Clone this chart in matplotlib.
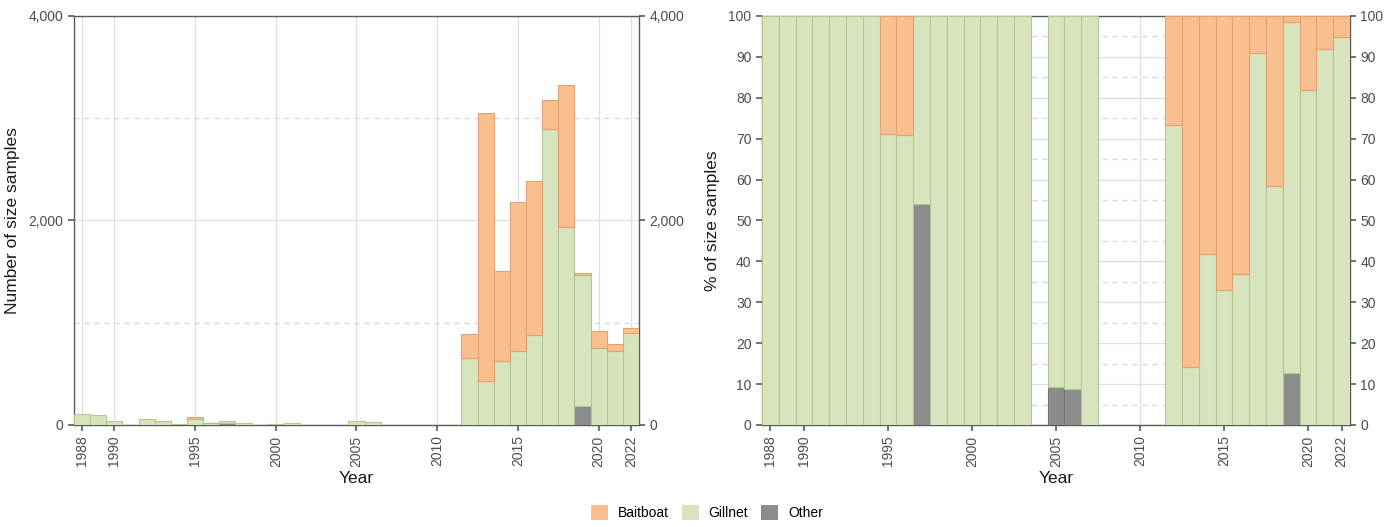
import numpy as np
import matplotlib
matplotlib.use("Agg")
import matplotlib.pyplot as plt
from matplotlib.patches import Patch
from matplotlib.ticker import FuncFormatter, MultipleLocator

plt.rcParams['font.family'] = ['Liberation Sans', 'DejaVu Sans']

# Size samples per gear and year
years = list(range(1988, 2023))
gillnet = [104, 94, 42, 2, 62, 36, 7, 57, 17, 17, 20, 3, 13, 20, 4, 2,
           0, 39, 31, 3, 0, 0, 0, 0,
           651, 430, 628, 720, 883, 2890, 1938, 1274, 749, 728, 896]
baitboat = [0, 0, 0, 0, 0, 0, 0, 23, 7, 0, 0, 0, 0, 0, 0, 0,
            0, 0, 0, 0, 0, 0, 0, 0,
            238, 2625, 874, 1462, 1508, 287, 1383, 22, 166, 64, 49]
other = [0, 0, 0, 0, 0, 0, 0, 0, 0, 20, 0, 0, 0, 0, 0, 0,
         0, 4, 3, 0, 0, 0, 0, 0,
         0, 0, 0, 0, 0, 0, 0, 189, 0, 0, 0]

gears = ['Baitboat', 'Gillnet', 'Other']
fills = {'Baitboat': '#f9bf8e', 'Gillnet': '#d7e4bd', 'Other': '#8c8c8c'}
edges = {'Baitboat': '#e3a273', 'Gillnet': '#b3c795', 'Other': '#767676'}

x_ticks = [1988, 1990, 1995, 2000, 2005, 2010, 2015, 2020, 2022]

yrs = np.array(years)
o = np.array(other, dtype=float)
g = np.array(gillnet, dtype=float)
b = np.array(baitboat, dtype=float)
total = o + g + b
has = total > 0
pct_o = np.where(has, o / np.where(has, total, 1) * 100, 0)
pct_g = np.where(has, g / np.where(has, total, 1) * 100, 0)
pct_b = np.where(has, b / np.where(has, total, 1) * 100, 0)

tick_col = '#4d4d4d'
spine_col = '#5a5a5a'

fig = plt.figure(figsize=(13.97, 5.27), dpi=100)
ax1 = fig.add_axes([74 / 1397, 102 / 527, 565 / 1397, 409 / 527])
ax2 = fig.add_axes([762 / 1397, 102 / 527, 588 / 1397, 409 / 527])


def stack(ax, lo, mid, hi):
    # Other at the bottom, then Gillnet, then Baitboat
    bottom = np.zeros(len(yrs))
    for name, vals in (('Other', lo), ('Gillnet', mid), ('Baitboat', hi)):
        m = vals > 0
        ax.bar(yrs[m], vals[m], width=1.0, bottom=bottom[m], color=fills[name],
               edgecolor=edges[name], linewidth=0.8, zorder=3)
        bottom = bottom + vals


def style(ax, ymax, major, minor):
    ax.set_xlim(1987.5, 2022.5)
    ax.set_ylim(0, ymax)
    ax.set_axisbelow(True)
    ax.set_xticks(x_ticks)
    ax.set_xticklabels([str(t) for t in x_ticks], rotation=90)
    ax.yaxis.set_major_locator(MultipleLocator(major))
    ax.yaxis.set_minor_locator(MultipleLocator(minor))
    for t in x_ticks:
        ax.axvline(t, color='#dedede', lw=0.9, zorder=0)
    for yv in np.arange(0, ymax + 1, major):
        ax.axhline(yv, color='#dedede', lw=0.9, zorder=0)
    for yv in np.arange(minor, ymax, major):
        ax.axhline(yv, color='#d6d6d6', lw=0.9, ls=(0, (4, 4)), zorder=0)
    ax.tick_params(axis='both', which='major', labelsize=10, colors=tick_col,
                   length=4, width=1.1, direction='out')
    ax.tick_params(axis='y', which='major', right=True, labelright=True)
    ax.tick_params(axis='y', which='minor', left=False, right=False)
    for s in ax.spines.values():
        s.set_color(spine_col)
        s.set_linewidth(1.0)
    ax.set_xlabel('Year', fontsize=12.5, color='#1a1a1a', labelpad=3)


stack(ax1, o, g, b)
style(ax1, 4000, 2000, 1000)
ax1.yaxis.set_major_formatter(FuncFormatter(lambda v, p: f'{v:,.0f}'))
ax1.set_ylabel('Number of size samples', fontsize=12.5, color='#1a1a1a', labelpad=6)

stack(ax2, pct_o, pct_g, pct_b)
style(ax2, 100, 10, 5)
ax2.set_ylabel('% of size samples', fontsize=12.5, color='#1a1a1a', labelpad=6)

handles = [Patch(facecolor=fills[n], edgecolor='none') for n in gears]
fig.legend(handles, gears, loc='center', bbox_to_anchor=(0.506, 0.027), ncol=3,
           frameon=False, fontsize=10, handlelength=1.25, handleheight=1.25,
           handletextpad=0.7, columnspacing=0.9)

fig.savefig('out.png', dpi=100)
